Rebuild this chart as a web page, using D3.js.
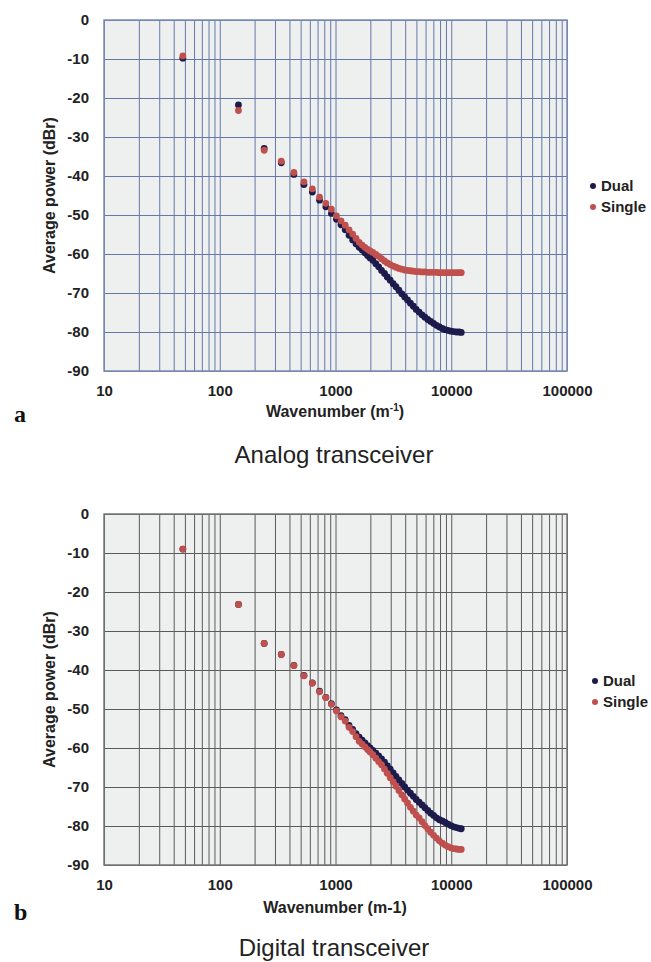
<!DOCTYPE html>
<html>
<head>
<meta charset="utf-8">
<script src="https://cdn.jsdelivr.net/npm/d3@7"></script>
<style>
  body { margin: 0; background: #fff; }
  svg { display: block; }
  text { font-family: "Liberation Sans", Arial, sans-serif; }
</style>
</head>
<body>
<svg id="chart" width="651" height="962"></svg>
<script>
// wavenumber bins (m^-1), shared by all series
const wavenumber = [48, 145, 242, 340, 437, 534, 631, 728, 825, 922,
    1019, 1116, 1213, 1310, 1407, 1504, 1601, 1698, 1795, 1892,
    1989, 2100, 2230, 2360, 2500, 2650, 2800, 2970, 3150, 3330,
    3530, 3740, 3960, 4190, 4440, 4700, 4980, 5280, 5590, 5920,
    6270, 6640, 7040, 7450, 7890, 8360, 8860, 9380, 9940, 10500,
    11100, 11700, 12200]

const analogDual = [-9.8, -21.8, -32.9, -36.6, -39.6, -42.2, -44.1, -46.2, -47.9, -49.6,
    -51.1, -52.5, -53.8, -55.2, -56.4, -57.4, -58.3, -59.0, -59.7, -60.4,
    -61.0, -61.6, -62.5, -63.3, -64.2, -65.0, -65.9, -66.7, -67.6, -68.4,
    -69.3, -70.2, -71.0, -71.8, -72.6, -73.4, -74.2, -74.9, -75.6, -76.2,
    -76.8, -77.3, -77.8, -78.3, -78.7, -79.1, -79.4, -79.6, -79.8, -79.9,
    -80.0, -80.0, -80.1]

const analogSingle = [-9.2, -23.2, -33.4, -36.2, -39.1, -41.5, -43.3, -45.4, -47.0, -48.5,
    -50.2, -51.5, -52.6, -53.8, -54.9, -56.0, -57.0, -57.7, -58.3, -58.8,
    -59.2, -59.6, -60.1, -60.6, -61.2, -61.8, -62.3, -62.7, -63.1, -63.4,
    -63.7, -63.9, -64.1, -64.2, -64.3, -64.4, -64.5, -64.5, -64.6, -64.6,
    -64.7, -64.7, -64.7, -64.7, -64.8, -64.8, -64.8, -64.8, -64.8, -64.8,
    -64.8, -64.8, -64.8]

const digitalDual = [-9.0, -23.2, -33.2, -36.0, -38.8, -41.4, -43.3, -45.4, -47.0, -48.6,
    -50.2, -51.7, -52.7, -54.2, -55.2, -56.3, -57.2, -58.0, -58.7, -59.4,
    -60.0, -60.6, -61.3, -62.0, -62.8, -63.6, -64.5, -65.4, -66.4, -67.3,
    -68.2, -69.1, -70.0, -70.8, -71.6, -72.4, -73.2, -73.9, -74.6, -75.3,
    -76.0, -76.7, -77.3, -77.9, -78.4, -78.7, -79.1, -79.5, -79.9, -80.2,
    -80.4, -80.6, -80.7]

const digitalSingle = [-9.0, -23.2, -33.2, -36.0, -38.9, -41.5, -43.4, -45.6, -47.1, -48.8,
    -50.5, -52.0, -53.1, -54.7, -55.8, -57.1, -58.3, -59.0, -59.7, -60.4,
    -61.0, -61.7, -62.6, -63.5, -64.3, -65.4, -66.5, -67.6, -68.7, -69.8,
    -70.9, -72.0, -73.1, -74.1, -75.2, -76.2, -77.2, -77.9, -78.9, -79.9,
    -80.7, -81.6, -82.4, -83.1, -83.8, -84.4, -84.9, -85.3, -85.6, -85.8,
    -85.9, -86.0, -86.0]

const seriesNames = ["Dual", "Single"]
const yTicks = [0, -10, -20, -30, -40, -50, -60, -70, -80, -90]
const xDecades = [10, 100, 1000, 10000, 100000]

const colors = { Dual: "#1c1b4c", Single: "#c0504d" }

const svg = d3.select("#chart")
const left = 104, right = 567, plotH = 351

// plain hyphen for negatives, like the original
const fmt = d => String(d)

// every 1..9 x 10^n gridline between 10 and 100000
const xGrid = []
for (let d = 10; d < 100000; d *= 10) {
    for (let m = 1; m < 10; m++) xGrid.push(m * d)
}
xGrid.push(100000)

function panel(top, dual, single, opts) {
    const x = d3.scaleLog().domain([10, 100000]).range([left, right])
    const y = d3.scaleLinear().domain([-90, 0]).range([top + plotH, top])

    const g = svg.append("g")

    g.append("rect")
        .attr("x", left).attr("y", top)
        .attr("width", right - left).attr("height", plotH)
        .attr("fill", "#eeefef")

    // vertical grid
    g.append("g")
        .attr("transform", `translate(0,${top + plotH})`)
        .call(d3.axisBottom(x).tickValues(xGrid).tickSize(-plotH).tickFormat(""))
        .call(a => a.select(".domain").remove())
        .selectAll("line").attr("stroke", opts.grid).attr("stroke-width", 1)

    // horizontal grid
    g.append("g")
        .attr("transform", `translate(${left},0)`)
        .call(d3.axisLeft(y).tickValues(yTicks).tickSize(-(right - left)).tickFormat(""))
        .call(a => a.select(".domain").remove())
        .selectAll("line").attr("stroke", opts.grid).attr("stroke-width", 1)

    g.append("rect")
        .attr("x", left).attr("y", top)
        .attr("width", right - left).attr("height", plotH)
        .attr("fill", "none").attr("stroke", opts.border).attr("stroke-width", 1.5)

    // tick labels
    g.append("g")
        .attr("transform", `translate(0,${top + plotH})`)
        .call(d3.axisBottom(x).tickValues(xDecades).tickSize(0).tickPadding(14).tickFormat(fmt))
        .call(a => a.select(".domain").remove())
        .selectAll("text")
        .style("font-family", "'Liberation Sans', Arial, sans-serif")
        .style("font-size", "15px").style("font-weight", "bold").attr("fill", "#222")

    g.append("g")
        .attr("transform", `translate(${left},0)`)
        .call(d3.axisLeft(y).tickValues(yTicks).tickSize(0).tickPadding(15).tickFormat(fmt))
        .call(a => a.select(".domain").remove())
        .selectAll("text")
        .style("font-family", "'Liberation Sans', Arial, sans-serif")
        .style("font-size", "15px").style("font-weight", "bold").attr("fill", "#222")

    // points: Dual first, Single drawn on top
    const sets = [dual, single]
    sets.forEach((vals, i) => {
        g.append("g")
            .selectAll("circle")
            .data(wavenumber.map((k, j) => [k, vals[j]]))
            .join("circle")
            .attr("cx", d => x(d[0]))
            .attr("cy", d => y(d[1]))
            .attr("r", 3.4)
            .attr("fill", colors[seriesNames[i]])
    })

    // axis titles
    g.append("text")
        .attr("transform", `translate(55,${top + plotH / 2}) rotate(-90)`)
        .attr("text-anchor", "middle")
        .style("font-size", "16px").style("font-weight", "bold").attr("fill", "#222")
        .text("Average power (dBr)")

    const xt = g.append("text")
        .attr("x", 335).attr("y", top + plotH + opts.xTitleDy)
        .attr("text-anchor", "middle")
        .style("font-size", "16px").style("font-weight", "bold").attr("fill", "#222")
    if (opts.superscript) {
        xt.append("tspan").text("Wavenumber (m")
        xt.append("tspan").attr("dy", -6).style("font-size", "10px").text("-1")
        xt.append("tspan").attr("dy", 6).text(")")
    } else {
        xt.text("Wavenumber (m-1)")
    }

    // legend
    seriesNames.forEach((name, i) => {
        const ly = opts.legendY + i * 21
        g.append("circle").attr("cx", opts.legendX).attr("cy", ly).attr("r", 3).attr("fill", colors[name])
        g.append("text")
            .attr("x", opts.legendX + 8).attr("y", ly + 5)
            .style("font-size", "15px").style("font-weight", "bold").attr("fill", "#222")
            .text(name)
    })

    // panel letter and caption
    g.append("text")
        .attr("x", 14).attr("y", top + plotH + opts.letterDy)
        .style("font-family", "'Liberation Serif', 'Times New Roman', serif")
        .style("font-size", "24px").style("font-weight", "bold").attr("fill", "#111")
        .text(opts.letter)

    g.append("text")
        .attr("x", 334).attr("y", top + plotH + opts.captionDy)
        .attr("text-anchor", "middle")
        .style("font-size", "24px").attr("fill", "#222")
        .text(opts.caption)
}

panel(20, analogDual, analogSingle, {
    grid: "#6478a8", border: "#7d8db3", letter: "a", caption: "Analog transceiver",
    superscript: true, xTitleDy: 46, letterDy: 51, captionDy: 92,
    legendX: 593, legendY: 186
})

panel(514, digitalDual, digitalSingle, {
    grid: "#5a5a5a", border: "#777", letter: "b", caption: "Digital transceiver",
    superscript: false, xTitleDy: 48, letterDy: 55, captionDy: 91,
    legendX: 595, legendY: 681
})
</script>
</body>
</html>
